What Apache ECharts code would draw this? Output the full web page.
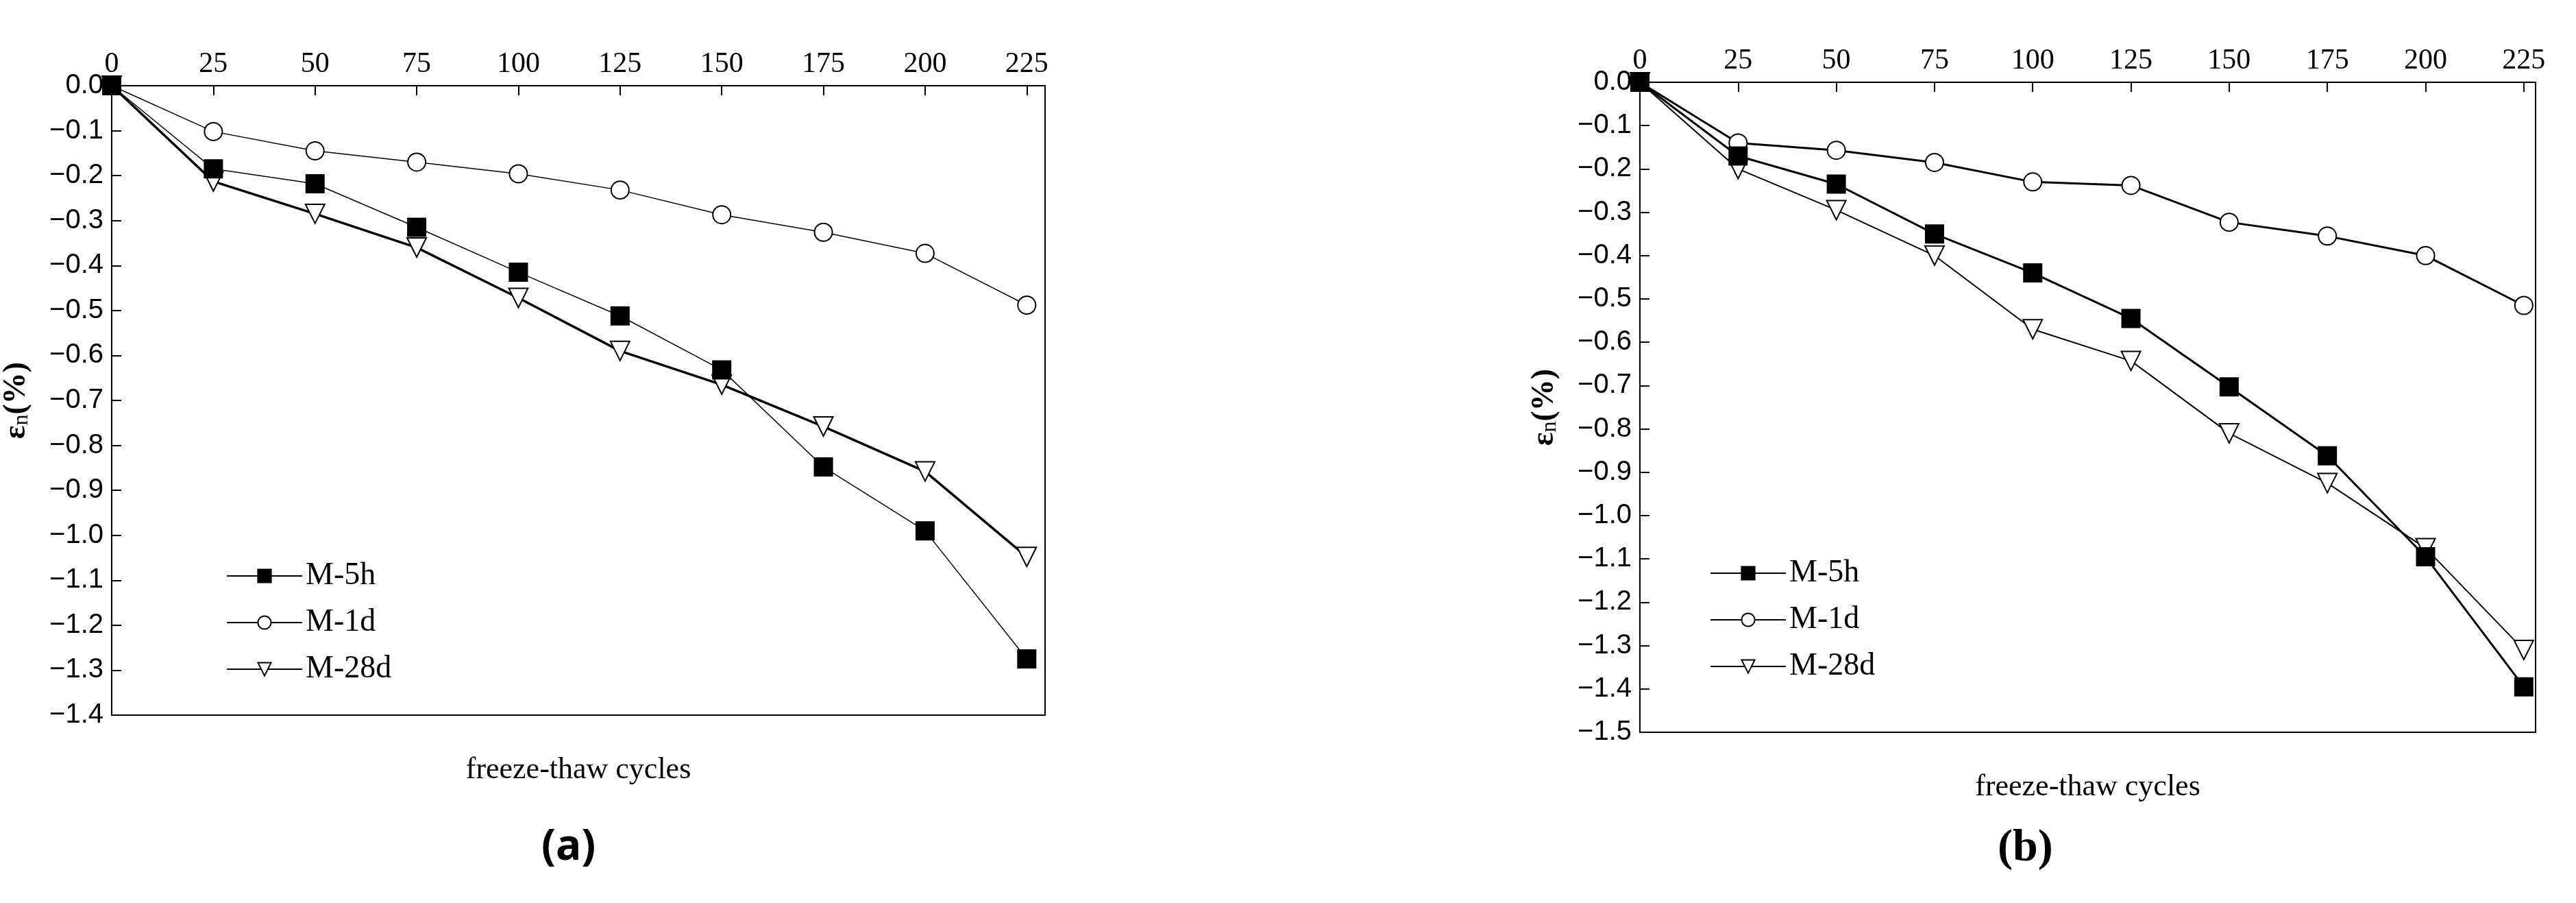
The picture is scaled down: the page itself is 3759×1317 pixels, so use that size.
<!DOCTYPE html>
<html><head><meta charset="utf-8">
<script src="https://cdn.jsdelivr.net/npm/echarts@6/dist/echarts.min.js"></script>
<style>html,body{margin:0;background:#fff}#c{width:3759px;height:1317px}</style>
</head><body><div id="c"></div>
<script>
const cycles = [0, 25, 50, 75, 100, 125, 150, 175, 200, 225];
const a5h = [0, -0.185, -0.218, -0.315, -0.415, -0.512, -0.632, -0.848, -0.99, -1.275];
const a1d = [0, -0.102, -0.145, -0.17, -0.196, -0.232, -0.287, -0.326, -0.373, -0.488];
const a28d = [0, -0.213, -0.285, -0.36, -0.472, -0.59, -0.665, -0.758, -0.858, -1.048];
const b5h = [0, -0.17, -0.235, -0.35, -0.44, -0.545, -0.703, -0.862, -1.095, -1.395];
const b1d = [0, -0.14, -0.157, -0.185, -0.23, -0.238, -0.323, -0.355, -0.4, -0.515];
const b28d = [0, -0.2, -0.295, -0.4, -0.57, -0.643, -0.81, -0.925, -1.075, -1.31];
const names = ['M-5h', 'M-1d', 'M-28d'];

let myChart = echarts.init(document.getElementById('c'));
const serif = 'Liberation Serif';
const sans = 'Liberation Sans';
const tri = 'path://M0,0 L10,0 L5,9 Z';

let grids = [
    {left: 161, width: 1364, top: 125, height: 918},
    {left: 2393, width: 1307, top: 120, height: 948}
];
let xMax = [229.5, 228];
let yMin = [-1.4, -1.5];

let xAxis = [], yAxis = [], series = [];
grids.forEach(function (g, i) {
    xAxis.push({
        type: 'value', gridIndex: i, position: 'top', min: 0, max: xMax[i], interval: 25,
        axisLine: {onZero: false, lineStyle: {color: '#000', width: 2}},
        axisTick: {inside: true, length: 14, lineStyle: {color: '#000', width: 2}},
        axisLabel: {color: '#000', fontFamily: serif, fontSize: 42, margin: 10, showMaxLabel: false},
        splitLine: {show: false}
    });
    xAxis.push({
        type: 'value', gridIndex: i, position: 'bottom', min: 0, max: xMax[i],
        axisLine: {onZero: false, lineStyle: {color: '#000', width: 2}},
        axisTick: {show: false}, axisLabel: {show: false}, splitLine: {show: false},
        name: 'freeze-thaw cycles', nameLocation: 'middle', nameGap: 58,
        nameTextStyle: {color: '#000', fontFamily: serif, fontSize: 44}
    });
    yAxis.push({
        type: 'value', gridIndex: i, min: yMin[i], max: 0, interval: 0.1,
        axisLine: {onZero: false, lineStyle: {color: '#000', width: 2}},
        axisTick: {inside: true, length: 14, lineStyle: {color: '#000', width: 2}},
        axisLabel: {color: '#000', fontFamily: sans, fontSize: 40, margin: 12,
            formatter: v => (v < 0 ? '\u2212' + (-v).toFixed(1) : '0.0')},
        splitLine: {show: false},
        name: '{e|ε}{s|n}{e|(%)}', nameLocation: 'middle', nameGap: 115, nameRotate: 90,
        nameTextStyle: {rich: {
            e: {fontFamily: serif, fontSize: 46, fontWeight: 'bold', color: '#000'},
            s: {fontFamily: serif, fontSize: 32, color: '#000', verticalAlign: 'bottom', padding: [16, 0, 0, 0]}
        }}
    });
    yAxis.push({
        type: 'value', gridIndex: i, position: 'right', min: yMin[i], max: 0,
        axisLine: {show: true, onZero: false, lineStyle: {color: '#000', width: 2}},
        axisTick: {show: false}, axisLabel: {show: false}, splitLine: {show: false}
    });
    let sets = i === 0 ? [a5h, a1d, a28d] : [b5h, b1d, b28d];
    let widths = i === 0 ? [1.5, 1.5, 3.5] : [3, 3, 2];
    let syms = ['rect', 'circle', tri];
    let sizes = [26, 26, 28];
    sets.forEach(function (vals, k) {
        series.push({
            name: names[k], type: 'line', xAxisIndex: i * 2, yAxisIndex: i * 2,
            data: cycles.map((c, j) => [c, vals[j]]),
            symbol: syms[k], symbolSize: sizes[k], showAllSymbol: true,
            lineStyle: {color: '#000', width: widths[k]},
            itemStyle: {color: k === 0 ? '#000' : '#fff', borderColor: '#000', borderWidth: 2},
            z: 10 - k
        });
    });
});

let legendCommon = {
    orient: 'vertical', itemWidth: 110, itemHeight: 24, itemGap: 22,
    textStyle: {color: '#000', fontFamily: serif, fontSize: 46}, data: names
};

let option = {
    animation: false,
    backgroundColor: '#fff',
    grid: grids,
    xAxis: xAxis,
    yAxis: yAxis,
    legend: [
        Object.assign({left: 325, top: 812}, legendCommon),
        Object.assign({left: 2490, top: 808}, legendCommon)
    ],
    title: [
        {text: '(a)', left: 785, top: 1200, textStyle: {fontFamily: 'Noto Sans', fontSize: 62, fontWeight: 'bold', color: '#000'}},
        {text: '(b)', left: 2910, top: 1200, textStyle: {fontFamily: serif, fontSize: 66, fontWeight: 'bold', color: '#000'}}
    ],
    series: series
};
myChart.setOption(option);
</script></body></html>
